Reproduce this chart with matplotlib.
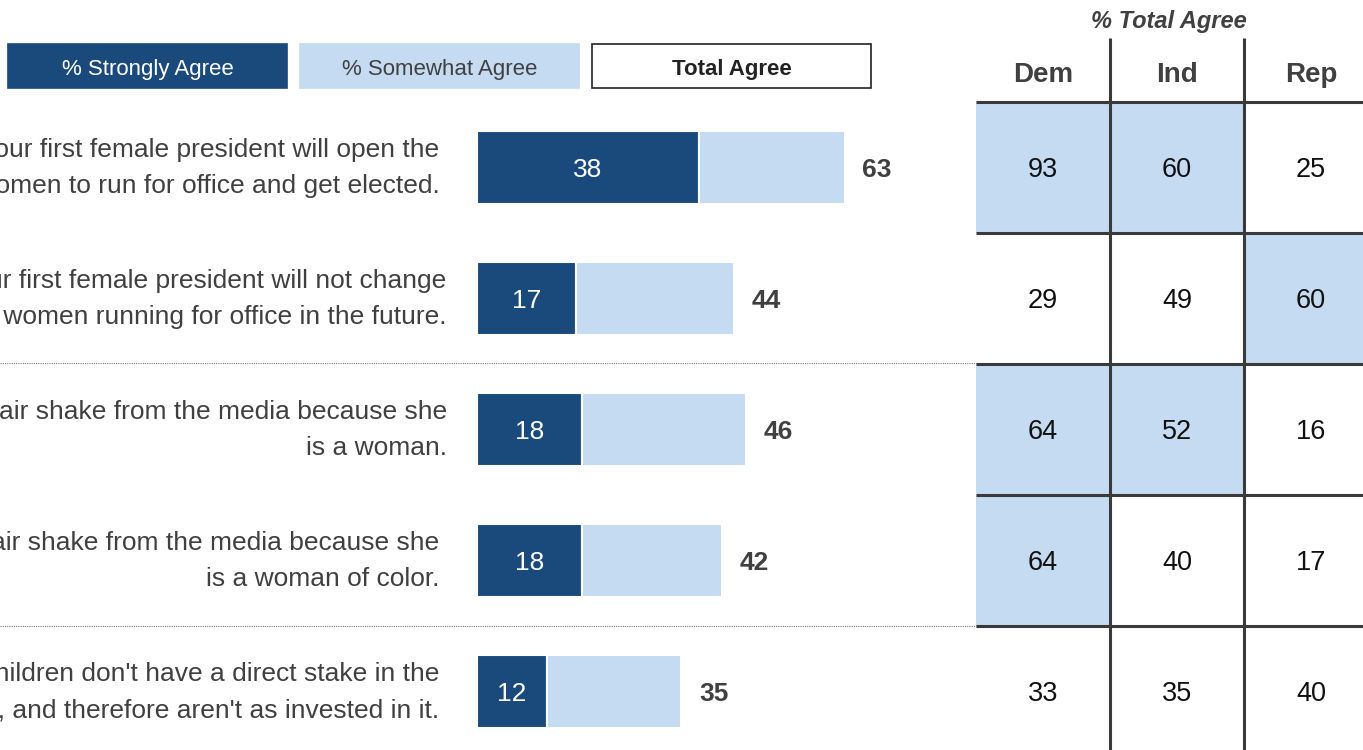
import matplotlib
matplotlib.use("Agg")
import matplotlib.pyplot as plt
from matplotlib.patches import Rectangle

plt.rcParams['font.family'] = ['Liberation Sans', 'DejaVu Sans']

# data
statements = [
    "Electing our first female president will open the\ndoor for more women to run for office and get elected.",
    "Electing our first female president will not change\nthe number of women running for office in the future.",
    "Kamala Harris doesn't get a fair shake from the media because she\nis a woman.",
    "Kamala Harris doesn't get a fair shake from the media because she\nis a woman of color.",
    "Politicians without children don't have a direct stake in the\nfuture, and therefore aren't as invested in it.",
]
strongly = [38, 17, 18, 18, 12]
somewhat = [25, 27, 28, 24, 23]
total = [63, 44, 46, 42, 35]
parties = ["Dem", "Ind", "Rep"]
dem = [93, 29, 64, 64, 33]
ind = [60, 49, 52, 40, 35]
rep = [25, 60, 16, 17, 40]
legend_labels = ["% Strongly Agree", "% Somewhat Agree", "Total Agree"]

dark = "#1A4A7C"
light = "#C5DBF2"
txt = "#404040"
line_c = "#3A3A3A"

W, H = 1363, 750
fig = plt.figure(figsize=(W / 100, H / 100), dpi=100)

# overlay in pixel layout coords (legend, separators)
ax0 = fig.add_axes([0, 0, 1, 1])
ax0.set_xlim(0, W)
ax0.set_ylim(H, 0)
ax0.axis("off")

legend_fc = [dark, light, "white"]
legend_ec = [dark, light, "#222222"]
legend_tc = ["white", txt, "#222222"]
legend_w = ["normal", "normal", "bold"]
for i, lab in enumerate(legend_labels):
    x0 = 8 + i * 292
    ax0.add_patch(Rectangle((x0, 44), 279, 44, facecolor=legend_fc[i],
                            edgecolor=legend_ec[i], lw=1.2))
    ax0.text(x0 + 139.5, 69, lab, ha="center", va="center", fontsize=16,
             color=legend_tc[i], fontweight=legend_w[i])

for yy in [363, 626]:
    ax0.plot([0, 976], [yy, yy], color="#7a7a7a", lw=0.8, ls=(0, (1, 1)))

# vertical extent shared by bars and table: rows start at y=102px, 131px each
bottom = (H - 102 - 5 * 131) / H
height = 5 * 131 / H
dy = 0.022  # small nudge so digits sit on the row centre

# bars
axb = fig.add_axes([477 / W, bottom, 584 / W, height])
axb.set_xlim(0, 100)
axb.set_ylim(5, 0)
axb.axis("off")
ys = [i + 0.5 for i in range(len(strongly))]
axb.barh(ys, strongly, height=0.55, color=dark, edgecolor="white", lw=1.5)
axb.barh(ys, somewhat, left=strongly, height=0.55, color=light, edgecolor="white", lw=1.5)
label_x = [-6.4, -5.2, -5.2, -6.4, -6.4]
for i, y in enumerate(ys):
    axb.text(strongly[i] / 2, y + dy, str(strongly[i]), ha="center", va="center",
             color="white", fontsize=19)
    axb.text(total[i] + 3, y + dy, str(total[i]), ha="left", va="center",
             color=txt, fontsize=19, fontweight="bold")
    axb.text(label_x[i], y + 0.005, statements[i], ha="right", va="center", color=txt,
             fontsize=19, linespacing=1.65, clip_on=False)

# table
axt = fig.add_axes([976 / W, bottom, 3 * 134 / W, height])
axt.set_xlim(0, 3)
axt.set_ylim(5, 0)
axt.axis("off")
cols = [dem, ind, rep]
for c, vals in enumerate(cols):
    for r, v in enumerate(vals):
        if v > 50:
            axt.add_patch(Rectangle((c, r), 1, 1, facecolor=light, edgecolor="none",
                                    clip_on=False))
        axt.text(c + 0.5, r + 0.5 + dy, str(v), ha="center", va="center",
                 fontsize=19.5, color="#111111")
    axt.text(c + 0.5, -0.23 + dy, parties[c], ha="center", va="center",
             fontsize=20, fontweight="bold", color=txt, clip_on=False)
for r in range(5):
    axt.plot([0, 3], [r, r], color=line_c, lw=2.2, clip_on=False, solid_capstyle="butt")
for c in [1, 2]:
    axt.plot([c, c], [-0.49, 5], color=line_c, lw=2.2, clip_on=False, solid_capstyle="butt")
axt.text(1.44, -0.634 + dy, "% Total Agree", ha="center", va="center", fontsize=17,
         fontweight="bold", fontstyle="italic", color=txt, clip_on=False)

fig.savefig("out.png", dpi=100)
